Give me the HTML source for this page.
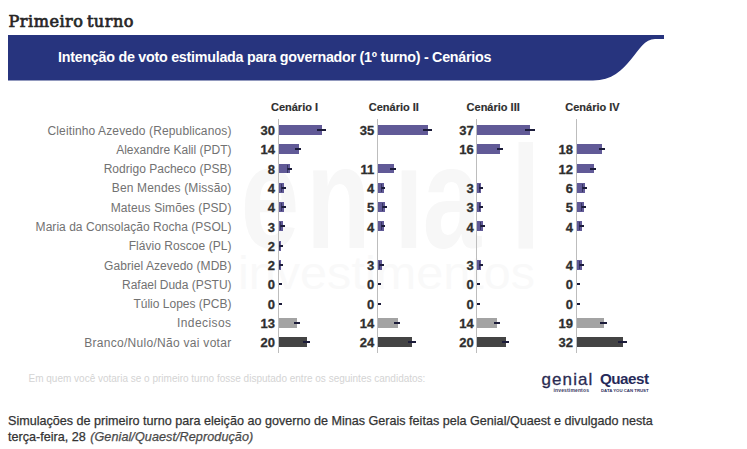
<!DOCTYPE html>
<html lang="pt-BR"><head><meta charset="utf-8"><title>Primeiro turno</title>
<style>
html,body{margin:0;padding:0;background:#fff;}
body{width:747px;height:449px;position:relative;overflow:hidden;font-family:"Liberation Sans",Arial,sans-serif;}
.abs{position:absolute;}
h2{position:absolute;left:8.5px;top:11.8px;margin:0;font-family:"DejaVu Serif","Liberation Serif",serif;font-weight:400;letter-spacing:0.5px;word-spacing:-2.2px;font-size:16.1px;line-height:20px;color:#262626;-webkit-text-stroke:0.7px #262626;white-space:nowrap;}
.banner{position:absolute;left:0;top:0;}
.btitle{position:absolute;left:58px;top:49px;letter-spacing:-0.26px;font-weight:700;font-size:14.3px;line-height:16px;color:#fff;white-space:nowrap;}
.hdr{position:absolute;width:80px;text-align:center;font-weight:700;font-size:11px;line-height:13px;color:#2e2e2e;-webkit-text-stroke:0.15px #2e2e2e;white-space:nowrap;}
.ax{position:absolute;top:119px;height:234px;width:1px;background:#bdbdbd;}
.lbl{position:absolute;right:515.5px;font-size:12px;line-height:14px;color:#727272;white-space:nowrap;}
.num{position:absolute;width:40px;text-align:right;font-weight:700;font-size:13px;line-height:14px;color:#2e2e2e;-webkit-text-stroke:0.3px #2e2e2e;}
.bar{position:absolute;height:9.9px;}
.bar.b{background:#615a97;}
.bar.g{background:#a3a3a3;}
.bar.d{background:#444;}
.err{position:absolute;height:2px;background:#1c1c3a;}
.cap1{position:absolute;width:1px;height:8px;background:#2a2950;opacity:0.75;}
.foot{position:absolute;left:28.5px;top:373px;font-size:10px;line-height:12px;color:#d4d4d4;white-space:nowrap;}
.cap{position:absolute;left:8px;top:414px;width:700px;font-size:12.6px;line-height:15.7px;color:#333;-webkit-text-stroke:0.25px #333;}
.cap i{color:#555;letter-spacing:0.08px;margin-left:1px;}
</style></head><body>
<h2>Primeiro turno</h2>
<svg class="banner" width="747" height="90" viewBox="0 0 747 90"><path d="M8 35 H664 V39 H655 C635 39 631 80.5 593 80.5 H8 Z" fill="#27347e"/></svg>
<div class="btitle">Intenção de voto estimulada para governador (1º turno) - Cenários</div>
<svg class="abs" style="left:0;top:0" width="747" height="449" viewBox="0 0 747 449"><g fill="#f7f7f7" font-family="Liberation Sans, sans-serif" font-weight="700" font-size="146" transform="translate(0,248) scale(0.72,1)"><text x="334.5 425.2 547.5 587.2 710.0" y="0">enıal</text></g><text x="238" y="289" fill="#f7f7f7" font-family="Liberation Sans, sans-serif" font-size="46" fill-opacity="0.75" textLength="297" lengthAdjust="spacingAndGlyphs">investimentos</text></svg>
<div class="hdr" style="left:254.5px;top:101.1px">Cenário I</div>
<div class="hdr" style="left:353.8px;top:101.1px">Cenário II</div>
<div class="hdr" style="left:453.2px;top:101.1px">Cenário III</div>
<div class="hdr" style="left:552.5px;top:101.1px">Cenário IV</div>
<div class="ax" style="left:277.5px"></div>
<div class="ax" style="left:376.8px"></div>
<div class="ax" style="left:476.2px"></div>
<div class="ax" style="left:575.5px"></div>
<div class="lbl" style="top:123.6px;letter-spacing:0.12px">Cleitinho Azevedo (Republicanos)</div>
<div class="num" style="left:235.0px;top:124.1px">30</div>
<div class="bar b" style="left:278.5px;top:125.0px;width:43.2px"></div>
<div class="err" style="left:316.8px;top:129.0px;width:8.8px"></div>
<div class="num" style="left:334.3px;top:124.1px">35</div>
<div class="bar b" style="left:377.8px;top:125.0px;width:50.4px"></div>
<div class="err" style="left:422.9px;top:129.0px;width:9.6px"></div>
<div class="num" style="left:433.7px;top:124.1px">37</div>
<div class="bar b" style="left:477.2px;top:125.0px;width:53.3px"></div>
<div class="err" style="left:525.0px;top:129.0px;width:9.9px"></div>
<div class="lbl" style="top:142.9px">Alexandre Kalil (PDT)</div>
<div class="num" style="left:235.0px;top:143.4px">14</div>
<div class="bar b" style="left:278.5px;top:144.3px;width:20.2px"></div>
<div class="err" style="left:295.0px;top:148.2px;width:6.2px"></div>
<div class="num" style="left:433.7px;top:143.4px">16</div>
<div class="bar b" style="left:477.2px;top:144.3px;width:23.0px"></div>
<div class="err" style="left:496.5px;top:148.2px;width:6.6px"></div>
<div class="num" style="left:533.0px;top:143.4px">18</div>
<div class="bar b" style="left:576.5px;top:144.3px;width:25.9px"></div>
<div class="err" style="left:598.5px;top:148.2px;width:6.9px"></div>
<div class="lbl" style="top:162.2px;letter-spacing:0.02px">Rodrigo Pacheco (PSB)</div>
<div class="num" style="left:235.0px;top:162.7px">8</div>
<div class="bar b" style="left:278.5px;top:163.6px;width:11.5px"></div>
<div class="err" style="left:286.9px;top:167.5px;width:5.3px"></div>
<div class="cap1" style="left:286.9px;top:164.6px"></div>
<div class="num" style="left:334.3px;top:162.7px">11</div>
<div class="bar b" style="left:377.8px;top:163.6px;width:15.8px"></div>
<div class="err" style="left:390.3px;top:167.5px;width:5.8px"></div>
<div class="num" style="left:533.0px;top:162.7px">12</div>
<div class="bar b" style="left:576.5px;top:163.6px;width:17.3px"></div>
<div class="err" style="left:590.3px;top:167.5px;width:5.9px"></div>
<div class="lbl" style="top:181.4px;letter-spacing:0.16px">Ben Mendes (Missão)</div>
<div class="num" style="left:235.0px;top:181.9px">4</div>
<div class="bar b" style="left:278.5px;top:182.8px;width:5.8px"></div>
<div class="err" style="left:281.4px;top:186.8px;width:4.6px"></div>
<div class="cap1" style="left:281.4px;top:183.8px"></div>
<div class="num" style="left:334.3px;top:181.9px">4</div>
<div class="bar b" style="left:377.8px;top:182.8px;width:5.8px"></div>
<div class="err" style="left:380.7px;top:186.8px;width:4.6px"></div>
<div class="cap1" style="left:380.7px;top:183.8px"></div>
<div class="num" style="left:433.7px;top:181.9px">3</div>
<div class="bar b" style="left:477.2px;top:182.8px;width:4.3px"></div>
<div class="err" style="left:478.8px;top:186.8px;width:4.5px"></div>
<div class="cap1" style="left:478.8px;top:183.8px"></div>
<div class="num" style="left:533.0px;top:181.9px">6</div>
<div class="bar b" style="left:576.5px;top:182.8px;width:8.6px"></div>
<div class="err" style="left:582.2px;top:186.8px;width:5.0px"></div>
<div class="cap1" style="left:582.2px;top:183.8px"></div>
<div class="lbl" style="top:200.7px;letter-spacing:0.11px">Mateus Simões (PSD)</div>
<div class="num" style="left:235.0px;top:201.2px">4</div>
<div class="bar b" style="left:278.5px;top:202.1px;width:5.8px"></div>
<div class="err" style="left:281.4px;top:206.1px;width:4.6px"></div>
<div class="cap1" style="left:281.4px;top:203.1px"></div>
<div class="num" style="left:334.3px;top:201.2px">5</div>
<div class="bar b" style="left:377.8px;top:202.1px;width:7.2px"></div>
<div class="err" style="left:382.1px;top:206.1px;width:4.8px"></div>
<div class="cap1" style="left:382.1px;top:203.1px"></div>
<div class="num" style="left:433.7px;top:201.2px">3</div>
<div class="bar b" style="left:477.2px;top:202.1px;width:4.3px"></div>
<div class="err" style="left:478.8px;top:206.1px;width:4.5px"></div>
<div class="cap1" style="left:478.8px;top:203.1px"></div>
<div class="num" style="left:533.0px;top:201.2px">5</div>
<div class="bar b" style="left:576.5px;top:202.1px;width:7.2px"></div>
<div class="err" style="left:580.8px;top:206.1px;width:4.8px"></div>
<div class="cap1" style="left:580.8px;top:203.1px"></div>
<div class="lbl" style="top:220.0px;letter-spacing:0.035px">Maria da Consolação Rocha (PSOL)</div>
<div class="num" style="left:235.0px;top:220.5px">3</div>
<div class="bar b" style="left:278.5px;top:221.4px;width:4.3px"></div>
<div class="err" style="left:280.1px;top:225.3px;width:4.5px"></div>
<div class="cap1" style="left:280.1px;top:222.4px"></div>
<div class="num" style="left:334.3px;top:220.5px">4</div>
<div class="bar b" style="left:377.8px;top:221.4px;width:5.8px"></div>
<div class="err" style="left:380.7px;top:225.3px;width:4.6px"></div>
<div class="cap1" style="left:380.7px;top:222.4px"></div>
<div class="num" style="left:433.7px;top:220.5px">4</div>
<div class="bar b" style="left:477.2px;top:221.4px;width:5.8px"></div>
<div class="err" style="left:480.1px;top:225.3px;width:4.6px"></div>
<div class="cap1" style="left:480.1px;top:222.4px"></div>
<div class="num" style="left:533.0px;top:220.5px">4</div>
<div class="bar b" style="left:576.5px;top:221.4px;width:5.8px"></div>
<div class="err" style="left:579.4px;top:225.3px;width:4.6px"></div>
<div class="cap1" style="left:579.4px;top:222.4px"></div>
<div class="lbl" style="top:239.3px;letter-spacing:0.04px">Flávio Roscoe (PL)</div>
<div class="num" style="left:235.0px;top:239.8px">2</div>
<div class="bar b" style="left:278.5px;top:240.7px;width:2.9px"></div>
<div class="err" style="left:278.7px;top:244.6px;width:4.3px"></div>
<div class="cap1" style="left:278.7px;top:241.7px"></div>
<div class="lbl" style="top:258.6px;letter-spacing:0.065px">Gabriel Azevedo (MDB)</div>
<div class="num" style="left:235.0px;top:259.1px">2</div>
<div class="bar b" style="left:278.5px;top:260.0px;width:2.9px"></div>
<div class="err" style="left:278.7px;top:263.9px;width:4.3px"></div>
<div class="cap1" style="left:278.7px;top:261.0px"></div>
<div class="num" style="left:334.3px;top:259.1px">3</div>
<div class="bar b" style="left:377.8px;top:260.0px;width:4.3px"></div>
<div class="err" style="left:379.4px;top:263.9px;width:4.5px"></div>
<div class="cap1" style="left:379.4px;top:261.0px"></div>
<div class="num" style="left:433.7px;top:259.1px">3</div>
<div class="bar b" style="left:477.2px;top:260.0px;width:4.3px"></div>
<div class="err" style="left:478.8px;top:263.9px;width:4.5px"></div>
<div class="cap1" style="left:478.8px;top:261.0px"></div>
<div class="num" style="left:533.0px;top:259.1px">4</div>
<div class="bar b" style="left:576.5px;top:260.0px;width:5.8px"></div>
<div class="err" style="left:579.4px;top:263.9px;width:4.6px"></div>
<div class="cap1" style="left:579.4px;top:261.0px"></div>
<div class="lbl" style="top:277.8px;letter-spacing:-0.035px">Rafael Duda (PSTU)</div>
<div class="num" style="left:235.0px;top:278.3px">0</div>
<div class="err" style="left:278.5px;top:283.2px;width:3.0px"></div>
<div class="num" style="left:334.3px;top:278.3px">0</div>
<div class="err" style="left:377.8px;top:283.2px;width:3.0px"></div>
<div class="num" style="left:433.7px;top:278.3px">0</div>
<div class="err" style="left:477.2px;top:283.2px;width:3.0px"></div>
<div class="num" style="left:533.0px;top:278.3px">0</div>
<div class="err" style="left:576.5px;top:283.2px;width:3.0px"></div>
<div class="lbl" style="top:297.1px">Túlio Lopes (PCB)</div>
<div class="num" style="left:235.0px;top:297.6px">0</div>
<div class="err" style="left:278.5px;top:302.5px;width:3.0px"></div>
<div class="num" style="left:334.3px;top:297.6px">0</div>
<div class="err" style="left:377.8px;top:302.5px;width:3.0px"></div>
<div class="num" style="left:433.7px;top:297.6px">0</div>
<div class="err" style="left:477.2px;top:302.5px;width:3.0px"></div>
<div class="num" style="left:533.0px;top:297.6px">0</div>
<div class="err" style="left:576.5px;top:302.5px;width:3.0px"></div>
<div class="lbl" style="top:316.4px;letter-spacing:0.42px">Indecisos</div>
<div class="num" style="left:235.0px;top:316.9px">13</div>
<div class="bar g" style="left:278.5px;top:317.8px;width:18.7px"></div>
<div class="err" style="left:293.7px;top:321.8px;width:6.1px"></div>
<div class="num" style="left:334.3px;top:316.9px">14</div>
<div class="bar g" style="left:377.8px;top:317.8px;width:20.2px"></div>
<div class="err" style="left:394.3px;top:321.8px;width:6.2px"></div>
<div class="num" style="left:433.7px;top:316.9px">14</div>
<div class="bar g" style="left:477.2px;top:317.8px;width:20.2px"></div>
<div class="err" style="left:493.7px;top:321.8px;width:6.2px"></div>
<div class="num" style="left:533.0px;top:316.9px">19</div>
<div class="bar g" style="left:576.5px;top:317.8px;width:27.4px"></div>
<div class="err" style="left:599.8px;top:321.8px;width:7.0px"></div>
<div class="lbl" style="top:335.7px;letter-spacing:0.29px">Branco/Nulo/Não vai votar</div>
<div class="num" style="left:235.0px;top:336.2px">20</div>
<div class="bar d" style="left:278.5px;top:337.1px;width:28.8px"></div>
<div class="err" style="left:303.2px;top:341.0px;width:7.2px"></div>
<div class="num" style="left:334.3px;top:336.2px">24</div>
<div class="bar d" style="left:377.8px;top:337.1px;width:34.6px"></div>
<div class="err" style="left:407.9px;top:341.0px;width:7.8px"></div>
<div class="num" style="left:433.7px;top:336.2px">20</div>
<div class="bar d" style="left:477.2px;top:337.1px;width:28.8px"></div>
<div class="err" style="left:501.9px;top:341.0px;width:7.2px"></div>
<div class="num" style="left:533.0px;top:336.2px">32</div>
<div class="bar d" style="left:576.5px;top:337.1px;width:46.1px"></div>
<div class="err" style="left:617.5px;top:341.0px;width:9.1px"></div>
<div class="foot">Em quem você votaria se o primeiro turno fosse disputado entre os seguintes candidatos:</div>
<div class="abs" style="left:541.5px;top:369.5px;font-size:17px;line-height:20px;font-weight:400;-webkit-text-stroke:0.3px #2a2b52;color:#2a2b52;letter-spacing:1.1px">genial</div>
<div class="abs" style="left:553.5px;top:386.5px;font-size:5px;line-height:6px;color:#3a3b62;letter-spacing:0.15px;font-weight:700">investimentos</div>
<div class="abs" style="left:600px;top:368.6px;font-size:15.2px;line-height:20px;font-weight:700;color:#262a5a;letter-spacing:-0.5px">Quaest</div>
<div class="abs" style="left:601px;top:387.5px;font-size:4.3px;line-height:5px;font-weight:700;color:#2e3160;letter-spacing:0px">DATA YOU CAN TRUST</div>
<div class="cap">Simulações de primeiro turno para eleição ao governo de Minas Gerais feitas pela Genial/Quaest e divulgado nesta<br>terça-feira, 28 <i>(Genial/Quaest/Reprodução)</i></div>
</body></html>
